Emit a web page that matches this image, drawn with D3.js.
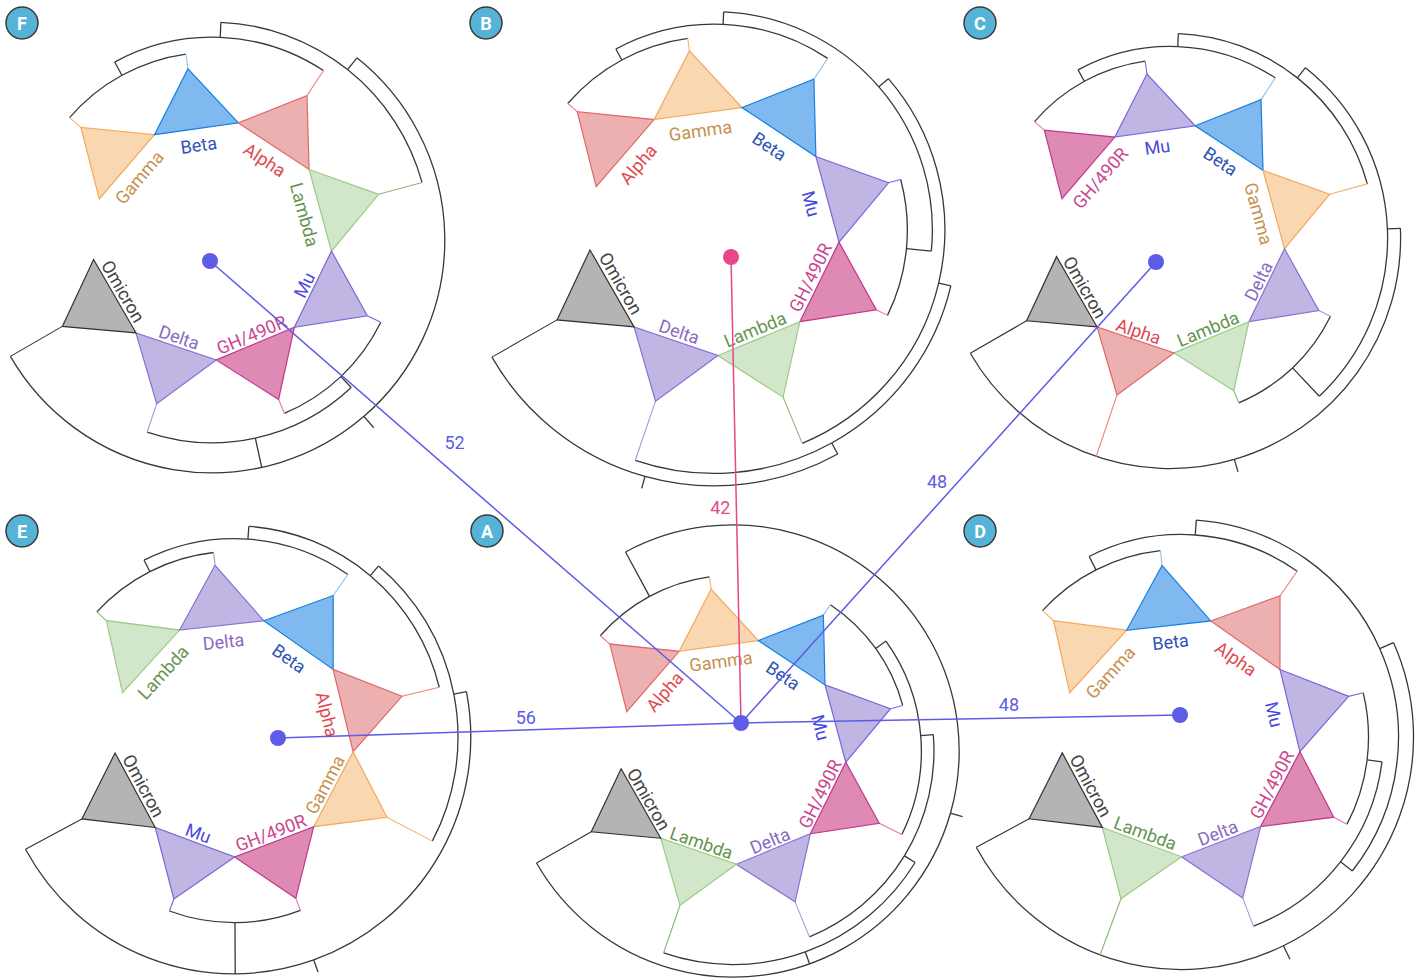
<!DOCTYPE html>
<html>
<head>
<meta charset="utf-8">
<script src="https://cdn.jsdelivr.net/npm/d3@7"></script>
<style>
  html, body { margin: 0; padding: 0; background: #ffffff; }
  svg { display: block; font-family: Roboto, "Noto Sans", "DejaVu Sans", sans-serif; }
</style>
</head>
<body>
<svg id="chart" width="1425" height="980"></svg>
<script>
// ---------------------------------------------------------------------------
// Data
// ---------------------------------------------------------------------------
const cladeNames = ["Alpha", "Beta", "Gamma", "Delta", "Lambda", "Mu", "GH/490R", "Omicron"];
const panelIds = ["A", "B", "C", "D", "E", "F"];

// Clockwise order of the collapsed clades around each ring (starting after the gap)
const orderA = ["Alpha", "Gamma", "Beta", "Mu", "GH/490R", "Delta", "Lambda", "Omicron"];
const orderB = ["Alpha", "Gamma", "Beta", "Mu", "GH/490R", "Lambda", "Delta", "Omicron"];
const orderC = ["GH/490R", "Mu", "Beta", "Gamma", "Delta", "Lambda", "Alpha", "Omicron"];
const orderD = ["Gamma", "Beta", "Alpha", "Mu", "GH/490R", "Delta", "Lambda", "Omicron"];
const orderE = ["Lambda", "Delta", "Beta", "Alpha", "Gamma", "GH/490R", "Mu", "Omicron"];
const orderF = ["Gamma", "Beta", "Alpha", "Lambda", "Mu", "GH/490R", "Delta", "Omicron"];

// Tree topologies (nested lists, leaves are clade names)
const treeA = [["Alpha", "Gamma"], [[[["Beta", "Mu"], "GH/490R"], "Delta"], "Lambda"], "Omicron"];
const treeB = [[[[[["Alpha", "Gamma"], "Beta"], ["Mu", "GH/490R"]], "Lambda"], "Delta"], "Omicron"];
const treeC = [[[[["GH/490R", "Mu"], "Beta"], "Gamma"], ["Delta", "Lambda"]], "Alpha", "Omicron"];
const treeD = [[[["Gamma", "Beta"], "Alpha"], [["Mu", "GH/490R"], "Delta"]], "Lambda", "Omicron"];
const treeE = [[[[["Lambda", "Delta"], "Beta"], "Alpha"], "Gamma"], ["GH/490R", "Mu"], "Omicron"];
const treeF = [[[["Gamma", "Beta"], "Alpha"], "Lambda"], [["Mu", "GH/490R"], "Delta"], "Omicron"];

// Tree distances from topology A to the others
const linkSource = "A";
const linkTargets = ["F", "B", "C", "E", "D"];
const linkDistances = [52, 42, 48, 56, 48];

// ---------------------------------------------------------------------------
// Styles and layout
// ---------------------------------------------------------------------------
const orders = { A: orderA, B: orderB, C: orderC, D: orderD, E: orderE, F: orderF };
const trees = { A: treeA, B: treeB, C: treeC, D: treeD, E: treeE, F: treeF };

const cladeStyle = {
  "Alpha":   { fill: "#ecb0b0", stroke: "#e06868", branch: "#f08080", text: "#e0484f" },
  "Beta":    { fill: "#7fb9ef", stroke: "#1a7fe0", branch: "#8fc1ea", text: "#2f55b5" },
  "Gamma":   { fill: "#f9d7b1", stroke: "#f3a85c", branch: "#f0b274", text: "#c5924f" },
  "Delta":   { fill: "#c0b5e3", stroke: "#8673d3", branch: "#a898d8", text: "#8a6bbf" },
  "Lambda":  { fill: "#d2e6c9", stroke: "#9bcb86", branch: "#8cb47c", text: "#65944f" },
  "Mu":      { fill: "#c0b5e3", stroke: "#7868d8", branch: "#6d6df0", text: "#4a4ade" },
  "GH/490R": { fill: "#df89b5", stroke: "#c2378b", branch: "#e575b5", text: "#c9478f" },
  "Omicron": { fill: "#b4b4b4", stroke: "#333333", branch: "#333333", text: "#444444" }
};

// ring centre, ring radius, level step, rotation (deg), badge and network-node positions
const panelLayout = {
  A: { cx: 733,  cy: 751, r: 113.3, step: 12.6, rot: 0.3, badge: [487, 531], dot: [741, 723] },
  B: { cx: 714,  cy: 230, r: 125.6, step: 12.5, rot: 0.2, badge: [486, 23],  dot: [731, 257] },
  C: { cx: 1170, cy: 238, r: 115,   step: 13,   rot: 0,   badge: [980, 23],  dot: [1156, 262] },
  D: { cx: 1181, cy: 737, r: 119.8, step: 15,   rot: 1.7, badge: [980, 531], dot: [1180, 715] },
  E: { cx: 234,  cy: 737, r: 120,   step: 12.8, rot: 1.7, badge: [22, 531],  dot: [278, 738] },
  F: { cx: 212,  cy: 240, r: 120,   step: 15,   rot: 0,   badge: [22, 23],   dot: [210, 261] }
};

// where each distance label sits along its link: fraction from source, perpendicular offset
const linkLabelPlace = { F: [0.569, 24], B: [0.464, -16], C: [0.501, -16], E: [0.464, 12], D: [0.611, -14] };

const treeInk = "#383838";
const linkBlue = "#5c5ce6";
const linkPink = "#e8478b";
const badgeFill = "#56b3d8";

const deg = Math.PI / 180;
const svg = d3.select("#chart");
svg.append("rect").attr("width", 1425).attr("height", 980).attr("fill", "#ffffff");

// ---------------------------------------------------------------------------
// One circular, inward-growing tree of collapsed clades
// ---------------------------------------------------------------------------
function drawPanel(id) {
  const L = panelLayout[id];
  const order = orders[id];
  const g = svg.append("g").attr("class", "panel panel-" + id)
    .attr("transform", `translate(${L.cx},${L.cy})`);

  const start = (-70 + L.rot) * deg;
  const slot = d3.scaleBand().domain(order).range([start, start + 330.67 * deg]);
  const bw = slot.bandwidth();
  const apexR = 1.44 * L.r;
  const radius = d3.scaleLinear().domain([0, 1]).range([apexR, apexR + L.step]);

  const root = d3.hierarchy(trees[id], d => (Array.isArray(d) ? d : null));
  root.eachAfter(n => {
    if (!n.children) {
      n.a = slot(n.data) + bw / 2;
    } else {
      const as = n.children.map(c => c.a);
      n.a0 = d3.min(as);
      n.a1 = d3.max(as);
      n.a = (n.a0 + n.a1) / 2;
    }
    n.r = radius(n.height);
  });

  // arcs joining the children of each internal node
  g.append("g").selectAll("path")
    .data(root.descendants().filter(n => n.children))
    .join("path")
    .attr("d", n => {
      const p = d3.path();
      const s0 = n.a0 - Math.PI / 2, s1 = n.a1 - Math.PI / 2;
      p.moveTo(n.r * Math.cos(s0), n.r * Math.sin(s0));
      p.arc(0, 0, n.r, s0, s1);
      return p.toString();
    })
    .attr("fill", "none").attr("stroke", treeInk).attr("stroke-width", 1.3);

  // radial branches
  const branches = root.descendants().filter(n => n.parent);
  branches.push({ a: root.a, r: root.r, stem: true, rEnd: radius(root.height + 1) });
  g.append("g").selectAll("line")
    .data(branches)
    .join("line")
    .each(function (n) {
      const p0 = d3.pointRadial(n.a, n.r);
      const p1 = d3.pointRadial(n.a, n.stem ? n.rEnd : n.parent.r);
      d3.select(this).attr("x1", p0[0]).attr("y1", p0[1]).attr("x2", p1[0]).attr("y2", p1[1]);
    })
    .attr("stroke", n => (!n.stem && !n.children ? cladeStyle[n.data].branch : treeInk))
    .attr("stroke-width", n => (!n.stem && !n.children ? 1.1 : 1.3));

  // collapsed clades as triangles: base on the ring, apex pointing outward
  g.append("g").selectAll("path")
    .data(order)
    .join("path")
    .attr("d", c => {
      const a0 = slot(c), a1 = a0 + bw, am = a0 + bw / 2;
      return d3.line()([d3.pointRadial(a0, L.r), d3.pointRadial(am, apexR), d3.pointRadial(a1, L.r)]) + "Z";
    })
    .attr("fill", c => cladeStyle[c].fill)
    .attr("stroke", c => cladeStyle[c].stroke)
    .attr("stroke-width", 1.2)
    .attr("stroke-linejoin", "miter");

  // clade names along the inside of the ring
  g.append("g").selectAll("text")
    .data(order)
    .join("text")
    .each(function (c) {
      const am = slot(c) + bw / 2;
      const a = ((am / deg) % 360 + 360) % 360;
      const lower = a > 90 && a < 270;
      const p = d3.pointRadial(am, (lower ? 0.855 : 0.80) * L.r);
      const rotate = lower ? a - 180 : a;
      d3.select(this).attr("transform", `translate(${p[0]},${p[1]}) rotate(${rotate})`);
    })
    .attr("text-anchor", "middle")
    .attr("dominant-baseline", "central")
    .attr("font-size", 18)
    .attr("fill", c => cladeStyle[c].text)
    .text(c => c);
}

panelIds.forEach(drawPanel);

// ---------------------------------------------------------------------------
// Network of tree distances
// ---------------------------------------------------------------------------
const minDist = d3.min(linkDistances);
const links = linkTargets.map((t, i) => ({ source: linkSource, target: t, d: linkDistances[i] }));
const linkColor = l => (l.d === minDist ? linkPink : linkBlue);

const net = svg.append("g").attr("class", "network");
net.selectAll("line")
  .data(links)
  .join("line")
  .attr("x1", l => panelLayout[l.source].dot[0])
  .attr("y1", l => panelLayout[l.source].dot[1])
  .attr("x2", l => panelLayout[l.target].dot[0])
  .attr("y2", l => panelLayout[l.target].dot[1])
  .attr("stroke", linkColor)
  .attr("stroke-width", 1.5);

net.selectAll("text")
  .data(links)
  .join("text")
  .each(function (l) {
    const s = panelLayout[l.source].dot, t = panelLayout[l.target].dot;
    const dx = t[0] - s[0], dy = t[1] - s[1], len = Math.hypot(dx, dy);
    const ux = dx / len, uy = dy / len;
    const [f, off] = linkLabelPlace[l.target];
    d3.select(this)
      .attr("x", s[0] + dx * f - uy * off)
      .attr("y", s[1] + dy * f + ux * off);
  })
  .attr("text-anchor", "middle")
  .attr("dominant-baseline", "central")
  .attr("font-size", 18)
  .attr("fill", linkColor)
  .text(l => l.d);

const nodeColor = id => {
  const l = links.find(k => k.target === id);
  return l ? linkColor(l) : linkBlue;
};
net.selectAll("circle")
  .data(panelIds)
  .join("circle")
  .attr("cx", id => panelLayout[id].dot[0])
  .attr("cy", id => panelLayout[id].dot[1])
  .attr("r", 8)
  .attr("fill", nodeColor);

// ---------------------------------------------------------------------------
// Panel badges
// ---------------------------------------------------------------------------
const badges = svg.append("g").attr("class", "badges").selectAll("g")
  .data(panelIds)
  .join("g")
  .attr("transform", id => `translate(${panelLayout[id].badge[0]},${panelLayout[id].badge[1]})`);
badges.append("circle").attr("r", 16).attr("fill", badgeFill).attr("stroke", "#3a3a3a").attr("stroke-width", 1.5);
badges.append("text")
  .attr("text-anchor", "middle").attr("dominant-baseline", "central")
  .attr("font-size", 18).attr("font-weight", 700).attr("fill", "#ffffff")
  .text(id => id);
</script>
</body>
</html>
